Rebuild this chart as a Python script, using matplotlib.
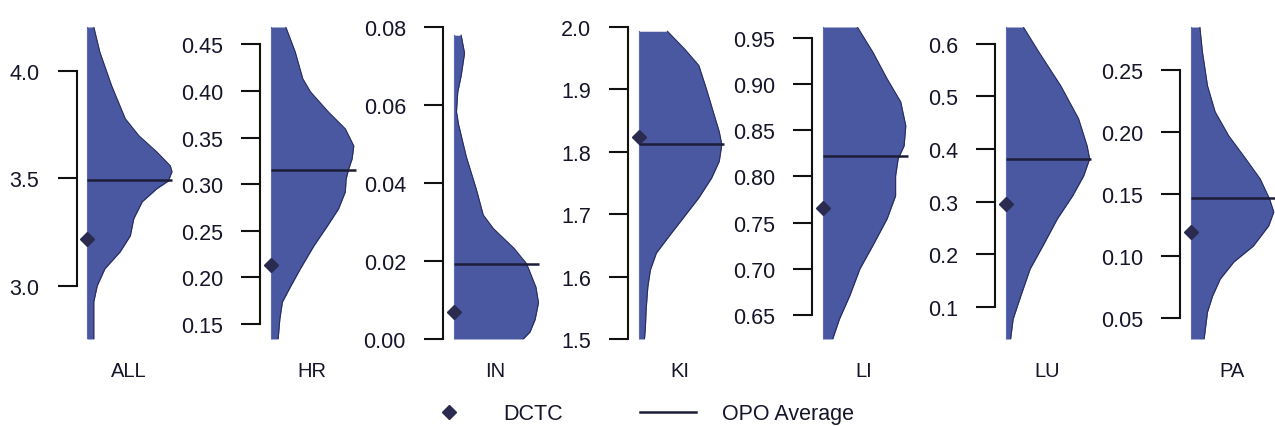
import matplotlib
matplotlib.use("Agg")
from matplotlib import pyplot as plt
from matplotlib.lines import Line2D

plt.rcParams['font.family'] = ['Liberation Sans', 'DejaVu Sans']

# panel names
names = ['ALL', 'HR', 'IN', 'KI', 'LI', 'LU', 'PA']

# OPO average (line) and DCTC value (diamond)
opo_avg = [3.49, 0.3155, 0.0193, 1.812, 0.822, 0.381, 0.1468]
dctc = [3.22, 0.213, 0.007, 1.823, 0.766, 0.296, 0.1194]

# y ticks per panel
ticks = [
    [3.0, 3.5, 4.0],
    [0.15, 0.20, 0.25, 0.30, 0.35, 0.40, 0.45],
    [0.00, 0.02, 0.04, 0.06, 0.08],
    [1.5, 1.6, 1.7, 1.8, 1.9, 2.0],
    [0.65, 0.70, 0.75, 0.80, 0.85, 0.90, 0.95],
    [0.1, 0.2, 0.3, 0.4, 0.5, 0.6],
    [0.05, 0.10, 0.15, 0.20, 0.25],
]
tick_labels = [
    ['3.0', '3.5', '4.0'],
    ['0.15', '0.20', '0.25', '0.30', '0.35', '0.40', '0.45'],
    ['0.00', '0.02', '0.04', '0.06', '0.08'],
    ['1.5', '1.6', '1.7', '1.8', '1.9', '2.0'],
    ['0.65', '0.70', '0.75', '0.80', '0.85', '0.90', '0.95'],
    ['0.1', '0.2', '0.3', '0.4', '0.5', '0.6'],
    ['0.05', '0.10', '0.15', '0.20', '0.25'],
]

# half violin outlines: value grid and relative density width
all_y = [4.203, 4.088, 3.930, 3.777, 3.698, 3.623, 3.558, 3.53, 3.512, 3.488, 3.451,
         3.391, 3.312, 3.233, 3.158, 3.079, 3.0, 2.926, 2.767, 2.753]
all_w = [0.08, 0.15, 0.29, 0.45, 0.61, 0.82, 0.98, 1.0, 0.98, 0.96, 0.82,
         0.65, 0.55, 0.51, 0.39, 0.21, 0.12, 0.08, 0.08, 0.08]
hr_y = [0.4687, 0.4422, 0.4132, 0.3992, 0.3777, 0.3595, 0.3412, 0.3272, 0.3165, 0.3058,
        0.2918, 0.2735, 0.2553, 0.2338, 0.2091, 0.1909, 0.1737, 0.1555, 0.1340]
hr_w = [0.18, 0.29, 0.38, 0.47, 0.68, 0.88, 0.98, 0.96, 0.92, 0.89,
        0.88, 0.80, 0.67, 0.51, 0.35, 0.24, 0.14, 0.11, 0.09]
in_y = [0.0779, 0.0733, 0.0675, 0.0633, 0.0583, 0.055, 0.0468, 0.0383, 0.0318, 0.0283,
        0.0233, 0.0193, 0.0133, 0.0093, 0.005, 0.0018, 0.0]
in_w = [0.09, 0.13, 0.09, 0.05, 0.035, 0.06, 0.15, 0.27, 0.35, 0.47,
        0.71, 0.86, 0.97, 1.0, 0.96, 0.90, 0.82]
ki_y = [1.9932, 1.9636, 1.9383, 1.9003, 1.8639, 1.8323, 1.8117, 1.7848, 1.7579, 1.7263,
        1.6946, 1.6630, 1.6377, 1.6108, 1.5839, 1.5475, 1.5158, 1.5]
ki_w = [0.34, 0.55, 0.71, 0.80, 0.88, 0.95, 0.98, 0.95, 0.86, 0.71,
        0.53, 0.35, 0.21, 0.14, 0.11, 0.09, 0.08, 0.07]
li_y = [0.9616, 0.9348, 0.9056, 0.8807, 0.8547, 0.8330, 0.8190, 0.8005, 0.7789, 0.7540,
        0.7247, 0.6998, 0.6706, 0.6457, 0.6240]
li_w = [0.41, 0.59, 0.76, 0.92, 0.98, 0.96, 0.89, 0.86, 0.86, 0.76,
        0.59, 0.44, 0.32, 0.20, 0.12]
lu_y = [0.6317, 0.5848, 0.5202, 0.4575, 0.4062, 0.3815, 0.3492, 0.3112, 0.2675, 0.2162,
        0.1725, 0.1212, 0.0775, 0.0395]
lu_w = [0.21, 0.39, 0.65, 0.86, 0.96, 0.99, 0.92, 0.79, 0.61, 0.44,
        0.29, 0.18, 0.09, 0.06]
pa_y = [0.2844, 0.2645, 0.2371, 0.2161, 0.1968, 0.1783, 0.1621, 0.146, 0.1355, 0.1243,
        0.1081, 0.0952, 0.0815, 0.0678, 0.0549, 0.0332]
pa_w = [0.11, 0.14, 0.20, 0.29, 0.45, 0.65, 0.82, 0.93, 0.98, 0.92,
        0.74, 0.51, 0.35, 0.26, 0.20, 0.16]

dens_y = [all_y, hr_y, in_y, ki_y, li_y, lu_y, pa_y]
dens_w = [all_w, hr_w, in_w, ki_w, li_w, lu_w, pa_w]

fill_col = '#4a58a2'
edge_col = '#2a2d5c'
dark = '#1c1d38'
text_col = '#15152a'

W, H = 1275, 427
fig = plt.figure(figsize=(W / 100, H / 100), dpi=100)

# left position (pixels) of each panel's axis line
spine_px = [76.5, 260, 443, 628, 812, 995, 1180]
vw = 85.0  # violin max width in pixels
gap = 10.5  # axis line to violin

for i in range(len(names)):
    ax = fig.add_axes([spine_px[i] / W, (H - 340) / H, 100 / W, 312 / H])
    ys, ws = dens_y[i], dens_w[i]
    ax.fill_betweenx(ys, 0, ws, color=fill_col, lw=0)
    ax.plot(ws, ys, color=edge_col, lw=0.8)
    ax.plot([0, 0], [min(ys), max(ys)], color='#5a6ab8', lw=0.8)
    ax.hlines(opo_avg[i], 0, 1, color=dark, lw=1.8, clip_on=False)
    ax.plot(0, dctc[i], marker='D', ms=7, color='#2b2b4f', ls='none', clip_on=False)
    ax.set_ylim(min(ys), max(ys))
    ax.set_xlim(-gap / vw, (100 - gap) / vw)
    ax.set_facecolor('none')
    for s in ['top', 'right', 'bottom']:
        ax.spines[s].set_visible(False)
    ax.spines['left'].set_bounds(ticks[i][0], ticks[i][-1])
    ax.spines['left'].set_linewidth(1.5)
    ax.spines['left'].set_color('#111111')
    ax.set_yticks(ticks[i], tick_labels[i])
    ax.tick_params(axis='y', length=13.7, width=1.5, color='#111111', pad=13,
                   labelsize=15.5, labelcolor=text_col)
    ax.set_xticks([0.49], [names[i]])
    ax.tick_params(axis='x', length=0, pad=16, labelsize=14.5, labelcolor=text_col)

handles = [Line2D([], [], marker='D', ls='none', color='#2b2b4f', ms=7),
           Line2D([], [], color=dark, lw=1.8)]
fig.legend(handles, ['DCTC', 'OPO Average'], ncol=2, loc='center left',
           bbox_to_anchor=(421 / W, 12 / H), frameon=False, handlelength=2.6,
           handletextpad=1.2, columnspacing=3.6, borderpad=0, borderaxespad=0,
           fontsize=15.5, labelcolor=text_col)

fig.savefig('out.png', dpi=100)
